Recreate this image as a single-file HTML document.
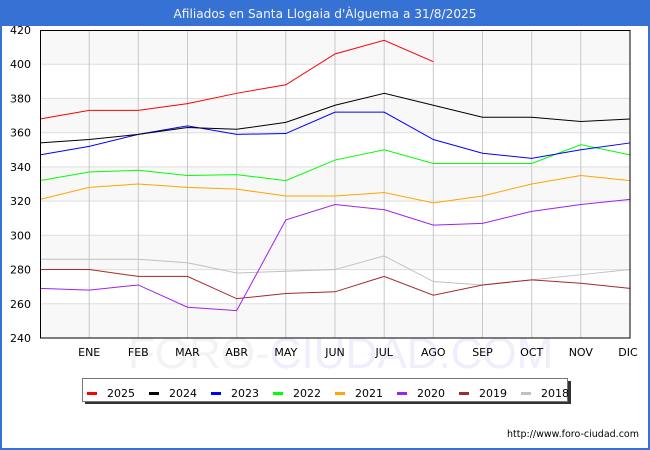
<!DOCTYPE html>
<html><head><meta charset="utf-8"><style>
html,body{margin:0;padding:0;background:#fff;}
svg{display:block;font-family:"DejaVu Sans","Liberation Sans",sans-serif;}
</style></head><body>
<svg width="650" height="450" viewBox="0 0 650 450" xmlns="http://www.w3.org/2000/svg">
<rect x="0" y="0" width="650" height="450" fill="#fff"/>
<!-- frame -->
<rect x="0" y="0" width="650" height="26" fill="#3672d4"/>
<rect x="0" y="0" width="2" height="450" fill="#3672d4"/>
<rect x="648" y="0" width="2" height="450" fill="#3672d4"/>
<rect x="0" y="448" width="650" height="2" fill="#3672d4"/>
<text x="325" y="18" text-anchor="middle" font-size="12" fill="#f4f4f4" textLength="303" lengthAdjust="spacingAndGlyphs">Afiliados en Santa Llogaia d'Àlguema a 31/8/2025</text>

<!-- watermark -->
<text x="128" y="368" font-size="44" fill="#f3f3f3" font-family="Liberation Sans, sans-serif">FORO-<tspan fill="#eeeefc">CIUDAD.COM</tspan></text>

<!-- plot bands -->
<g fill="#f8f8f8">
<rect x="40" y="30" width="590" height="34.2"/>
<rect x="40" y="98.4" width="590" height="34.2"/>
<rect x="40" y="166.9" width="590" height="34.2"/>
<rect x="40" y="235.3" width="590" height="34.2"/>
<rect x="40" y="303.8" width="590" height="34.2"/>
</g>
<g stroke="#dddddd" stroke-width="1">
<line x1="40" x2="630" y1="64.2" y2="64.2"/>
<line x1="40" x2="630" y1="98.4" y2="98.4"/>
<line x1="40" x2="630" y1="132.7" y2="132.7"/>
<line x1="40" x2="630" y1="166.9" y2="166.9"/>
<line x1="40" x2="630" y1="201.1" y2="201.1"/>
<line x1="40" x2="630" y1="235.3" y2="235.3"/>
<line x1="40" x2="630" y1="269.6" y2="269.6"/>
<line x1="40" x2="630" y1="303.8" y2="303.8"/>
</g>
<g stroke="#c8c8c8" stroke-width="1">
<line x1="89.2" x2="89.2" y1="30" y2="338"/>
<line x1="138.3" x2="138.3" y1="30" y2="338"/>
<line x1="187.5" x2="187.5" y1="30" y2="338"/>
<line x1="236.7" x2="236.7" y1="30" y2="338"/>
<line x1="285.8" x2="285.8" y1="30" y2="338"/>
<line x1="335" x2="335" y1="30" y2="338"/>
<line x1="384.2" x2="384.2" y1="30" y2="338"/>
<line x1="433.3" x2="433.3" y1="30" y2="338"/>
<line x1="482.5" x2="482.5" y1="30" y2="338"/>
<line x1="531.7" x2="531.7" y1="30" y2="338"/>
<line x1="580.8" x2="580.8" y1="30" y2="338"/>
</g>

<!-- series -->
<g fill="none" stroke-width="1" transform="matrix(49.1667 0 0 -1.71111 40 748.667)">
<polyline vector-effect="non-scaling-stroke" stroke="#c0c0c0" points="0,286 1,286 2,286 3,284 4,278 5,279 6,280 7,288 8,273 9,271 10,274 11,277 12,280"/>
<polyline vector-effect="non-scaling-stroke" stroke="#a52a2a" points="0,280 1,280 2,276 3,276 4,263 5,266 6,267 7,276 8,265 9,271 10,274 11,272 12,269"/>
<polyline vector-effect="non-scaling-stroke" stroke="#a020f0" points="0,269 1,268 2,271 3,258 4,256 5,309 6,318 7,315 8,306 9,307 10,314 11,318 12,321"/>
<polyline vector-effect="non-scaling-stroke" stroke="#ffa500" points="0,321 1,328 2,330 3,328 4,327 5,323 6,323 7,325 8,319 9,323 10,330 11,335 12,332"/>
<polyline vector-effect="non-scaling-stroke" stroke="#00ff00" points="0,332 1,337 2,338 3,335 4,335.5 5,332 6,344 7,350 8,342 9,342 10,342 11,353 12,347"/>
<polyline vector-effect="non-scaling-stroke" stroke="#0000ff" points="0,347 1,352 2,359 3,364 4,359 5,359.5 6,372 7,372 8,356 9,348 10,345 11,350 12,354"/>
<polyline vector-effect="non-scaling-stroke" stroke="#000000" points="0,354 1,356 2,359 3,363 4,362 5,366 6,376 7,383 8,376 9,369 10,369 11,366.5 12,368"/>
<polyline vector-effect="non-scaling-stroke" stroke="#ff0000" points="0,368 1,373 2,373 3,377 4,383 5,388 6,406 7,414 8,401.5"/>
</g>

<rect x="40.5" y="30.5" width="589.5" height="307.5" fill="none" stroke="#000" stroke-width="1"/>

<!-- y labels -->
<g font-size="11" fill="#000" text-anchor="end">
<text x="31" y="34">420</text>
<text x="31" y="68">400</text>
<text x="31" y="102.5">380</text>
<text x="31" y="136.7">360</text>
<text x="31" y="171">340</text>
<text x="31" y="205">320</text>
<text x="31" y="239.3">300</text>
<text x="31" y="273.6">280</text>
<text x="31" y="307.8">260</text>
<text x="31" y="342">240</text>
</g>
<!-- x labels -->
<g font-size="11" fill="#000" text-anchor="middle">
<text x="89.2" y="356">ENE</text>
<text x="138.3" y="356">FEB</text>
<text x="187.5" y="356">MAR</text>
<text x="236.7" y="356">ABR</text>
<text x="285.8" y="356">MAY</text>
<text x="335" y="356">JUN</text>
<text x="384.2" y="356">JUL</text>
<text x="433.3" y="356">AGO</text>
<text x="482.5" y="356">SEP</text>
<text x="531.7" y="356">OCT</text>
<text x="580.8" y="356">NOV</text>
<text x="628" y="356">DIC</text>
</g>

<!-- legend -->
<rect x="85" y="381" width="486" height="23" fill="#333"/>
<rect x="82.5" y="378.5" width="485" height="23" fill="#fff" stroke="#777" stroke-width="1"/>
<g font-size="11" fill="#000">
<rect x="87" y="392" width="10" height="3" fill="#ff0000"/><text x="107" y="397">2025</text>
<rect x="149" y="392" width="10" height="3" fill="#000000"/><text x="169" y="397">2024</text>
<rect x="211" y="392" width="10" height="3" fill="#0000ff"/><text x="231" y="397">2023</text>
<rect x="273" y="392" width="10" height="3" fill="#00ff00"/><text x="293" y="397">2022</text>
<rect x="335" y="392" width="10" height="3" fill="#ffa500"/><text x="355" y="397">2021</text>
<rect x="397" y="392" width="10" height="3" fill="#a020f0"/><text x="417" y="397">2020</text>
<rect x="459" y="392" width="10" height="3" fill="#a52a2a"/><text x="479" y="397">2019</text>
<rect x="521" y="392" width="10" height="3" fill="#c0c0c0"/><text x="541" y="397">2018</text>
</g>

<text x="639" y="437" font-size="9.5" fill="#000" text-anchor="end" textLength="132" lengthAdjust="spacingAndGlyphs">http://www.foro-ciudad.com</text>
</svg>
</body></html>
